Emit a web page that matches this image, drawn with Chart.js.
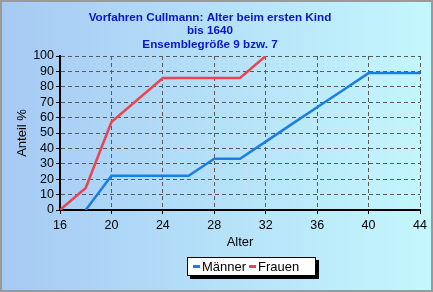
<!DOCTYPE html>
<html lang="de">
<head>
    <meta charset="UTF-8">
    <title>Vorfahren Cullmann: Alter beim ersten Kind</title>
    <style>
        html, body { margin: 0; padding: 0; background: #fff; }
        #wrap { width: 433px; height: 292px; }
    </style>
</head>
<body>
    <div id="wrap"><canvas id="chart" width="433" height="292"></canvas></div>

    <script src="https://cdn.jsdelivr.net/npm/chart.js"></script>
    <script>
        // Daten (kumulierte Anteile in %)
        const ages = [16, 18, 20, 22, 24, 26, 28, 30, 32, 34, 36, 38, 40, 42, 44];
        const maenner = [null, 0, 22.2, 22.2, 22.2, 22.2, 33.3, 33.3, 44.4, 55.6, 66.7, 77.8, 88.9, 88.9, 88.9];
        const frauen = [0, 14.3, 57.1, 71.4, 85.7, 85.7, 85.7, 85.7, 100, null, null, null, null, null, null];
        const titleLines = ['Vorfahren Cullmann: Alter beim ersten Kind', 'bis 1640', 'Ensemblegröße 9 bzw. 7'];

        const toPoints = (vals) => ages.map((a, i) => ({ x: a, y: vals[i] }));

        // Hintergrund mit Verlauf und grauem Rahmen
        const background = {
            id: 'background',
            beforeDraw(chart) {
                const ctx = chart.ctx;
                const w = chart.width, h = chart.height;
                const g = ctx.createLinearGradient(0, 0, w, 0);
                g.addColorStop(0, '#a6caf4');
                g.addColorStop(1, '#c4f7fd');
                ctx.save();
                ctx.fillStyle = g;
                ctx.fillRect(0, 0, w, h);
                ctx.strokeStyle = '#9a9a9a';
                ctx.lineWidth = 2;
                ctx.strokeRect(1, 1, w - 2, h - 2);
                ctx.restore();
            }
        };

        // Legende als Kasten mit Schatten
        const boxLegend = {
            id: 'boxLegend',
            afterDraw(chart) {
                const ctx = chart.ctx;
                const x = 187, y = 257, w = 129, h = 19;
                ctx.save();
                ctx.fillStyle = '#000';
                ctx.fillRect(x + 3, y + 3, w, h);
                ctx.fillStyle = '#fff';
                ctx.fillRect(x, y, w, h);
                ctx.strokeStyle = '#000';
                ctx.lineWidth = 1;
                ctx.strokeRect(x + 0.5, y + 0.5, w - 1, h - 1);
                ctx.font = '13px Arial, "Liberation Sans", sans-serif';
                ctx.textBaseline = 'middle';
                let cx = x + 6;
                chart.data.datasets.forEach(ds => {
                    ctx.strokeStyle = ds.borderColor;
                    ctx.lineWidth = 3;
                    ctx.beginPath();
                    ctx.moveTo(cx, y + h / 2);
                    ctx.lineTo(cx + 7, y + h / 2);
                    ctx.stroke();
                    ctx.fillStyle = '#000';
                    ctx.fillText(ds.label, cx + 9, y + h / 2 + 1);
                    cx += 9 + ctx.measureText(ds.label).width + 3;
                });
                ctx.restore();
            }
        };

        const tickFont = { family: 'Arial, "Liberation Sans", sans-serif', size: 12.5 };
        const axisFont = { family: 'Arial, "Liberation Sans", sans-serif', size: 13 };

        new Chart(document.getElementById('chart'), {
            type: 'line',
            data: {
                datasets: [
                    {
                        label: 'Männer',
                        data: toPoints(maenner),
                        borderColor: '#1a7ee6',
                        borderWidth: 2.5,
                        pointRadius: 0,
                        tension: 0,
                        spanGaps: false
                    },
                    {
                        label: 'Frauen',
                        data: toPoints(frauen),
                        borderColor: '#ea4452',
                        borderWidth: 2.5,
                        pointRadius: 0,
                        tension: 0,
                        spanGaps: false
                    }
                ]
            },
            options: {
                responsive: false,
                animation: false,
                layout: { padding: { left: 0, right: 13, top: 0, bottom: 42 } },
                plugins: {
                    legend: { display: false },
                    tooltip: { enabled: false },
                    title: {
                        display: true,
                        text: titleLines,
                        color: '#0a14c8',
                        font: { family: 'Arial, "Liberation Sans", sans-serif', size: 11.7, weight: 'bold', lineHeight: '13.5px' },
                        padding: { top: 11, bottom: 4.5 }
                    }
                },
                scales: {
                    x: {
                        type: 'linear',
                        min: 16,
                        max: 44,
                        afterFit(scale) { scale.height = 40; },
                        ticks: { stepSize: 4, autoSkip: false, color: '#000', font: tickFont, padding: 4, maxRotation: 0 },
                        grid: { color: '#5a5a5a', tickLength: 4, tickColor: '#000', tickBorderDash: [] },
                        border: { color: '#000', width: 2, dash: [4, 3] },
                        title: { display: true, text: 'Alter', color: '#000', font: axisFont, padding: { top: 0, bottom: 0 } }
                    },
                    y: {
                        min: 0,
                        max: 100,
                        afterFit(scale) { scale.width = 60; },
                        ticks: { stepSize: 10, autoSkip: false, color: '#000', font: tickFont, padding: 2 },
                        grid: { color: '#5a5a5a', tickLength: 4, tickColor: '#000', tickBorderDash: [] },
                        border: { color: '#000', width: 2, dash: [4, 3] },
                        title: { display: true, text: 'Anteil %', color: '#000', font: axisFont, padding: { top: 15, bottom: 0 } }
                    }
                }
            },
            plugins: [background, boxLegend]
        });
    </script>
</body>
</html>
